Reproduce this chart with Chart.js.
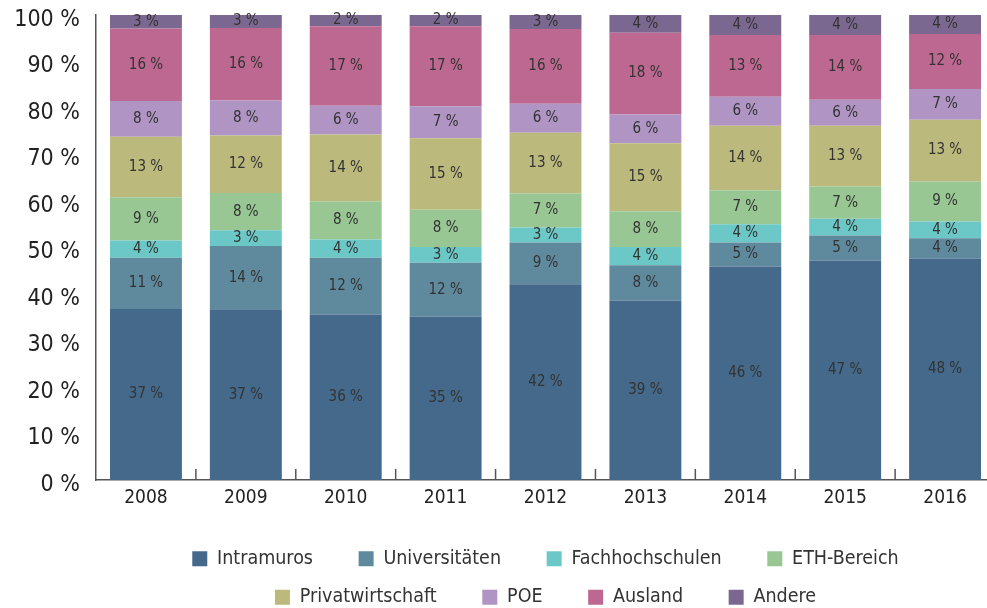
<!DOCTYPE html>
<html>
<head>
<meta charset="utf-8">
<script src="https://cdn.jsdelivr.net/npm/chart.js@4/dist/chart.umd.min.js"></script>
<style>
  html, body { margin: 0; padding: 0; background: #fff; overflow: hidden; }
</style>
</head>
<body>
<canvas id="chart" width="1000" height="617"></canvas>
<script>
const years = ['2008', '2009', '2010', '2011', '2012', '2013', '2014', '2015', '2016'];

// shares in percent
const intramuros       = [36.8, 36.7, 35.6, 35.1, 42.1, 38.6, 45.9, 47.2, 47.6];
const universitaeten   = [11.0, 13.6, 12.2, 11.6, 9.0, 7.6, 5.2, 5.4, 4.4];
const fachhochschulen  = [3.7, 3.4, 3.9, 3.4, 3.2, 3.9, 3.9, 3.6, 3.6];
const ethBereich       = [9.3, 8.0, 8.2, 8.0, 7.3, 7.7, 7.3, 6.9, 8.6];
const privatwirtschaft = [13.0, 12.4, 14.4, 15.4, 13.1, 14.6, 13.9, 13.1, 13.3];
const poe              = [7.7, 7.5, 6.2, 6.9, 6.2, 6.2, 6.2, 5.6, 6.6];
const ausland          = [15.6, 15.6, 17.1, 17.2, 16.1, 17.6, 13.3, 13.9, 11.8];
const andere           = [2.9, 2.8, 2.4, 2.4, 3.0, 3.8, 4.3, 4.3, 4.1];

const yTicks = [0, 10, 20, 30, 40, 50, 60, 70, 80, 90, 100];

const FONT = "'DejaVu Sans Condensed', 'DejaVu Sans', sans-serif";
const LEGEND_FONT_SIZE = 19.5;

const series = [
  { label: 'Intramuros', data: intramuros, color: '#44698a' },
  { label: 'Universitäten', data: universitaeten, color: '#5f8a9e' },
  { label: 'Fachhochschulen', data: fachhochschulen, color: '#6cc8c6' },
  { label: 'ETH-Bereich', data: ethBereich, color: '#98c794' },
  { label: 'Privatwirtschaft', data: privatwirtschaft, color: '#bcb97d' },
  { label: 'POE', data: poe, color: '#b094c4' },
  { label: 'Ausland', data: ausland, color: '#bc6891' },
  { label: 'Andere', data: andere, color: '#7b6890' },
];

// trailing gap after each legend text (wider than the row padding)
const LEGEND_GAP = ' \u2003\u2009';

// value labels in the middle of each segment
const segmentLabels = {
  id: 'segmentLabels',
  afterDatasetsDraw(chart) {
    const ctx = chart.ctx;
    ctx.save();
    ctx.font = '15px ' + FONT;
    ctx.fillStyle = '#333';
    ctx.textAlign = 'center';
    ctx.textBaseline = 'middle';
    chart.data.datasets.forEach((ds, i) => {
      const meta = chart.getDatasetMeta(i);
      meta.data.forEach((bar, j) => {
        const { x, y, base } = bar.getProps(['x', 'y', 'base'], true);
        ctx.fillText(Math.round(ds.data[j]) + ' %', x, (y + base) / 2);
      });
    });
    ctx.restore();
  },
};

// small upward ticks between the categories
const innerTicks = {
  id: 'innerTicks',
  afterDraw(chart) {
    const xs = chart.scales.x;
    const ctx = chart.ctx;
    ctx.save();
    ctx.strokeStyle = '#555';
    ctx.lineWidth = 1.5;
    for (let i = 1; i < years.length; i++) {
      const px = (xs.getPixelForValue(i - 1) + xs.getPixelForValue(i)) / 2;
      ctx.beginPath();
      ctx.moveTo(px, xs.top);
      ctx.lineTo(px, xs.top - 11);
      ctx.stroke();
    }
    ctx.restore();
  },
};

// the trailing gap shifts rows left, push the legend back by half of it
const legendShift = {
  id: 'legendShift',
  afterLayout(chart) {
    const lg = chart.legend;
    chart.ctx.save();
    chart.ctx.font = LEGEND_FONT_SIZE + 'px ' + FONT;
    const half = chart.ctx.measureText(LEGEND_GAP).width / 2;
    chart.ctx.restore();
    lg.left += half;
    lg.right += half;
  },
};

new Chart(document.getElementById('chart'), {
  type: 'bar',
  data: {
    labels: years,
    datasets: series.map((s) => ({
      label: s.label,
      data: s.data,
      backgroundColor: s.color,
      borderWidth: 0,
      barPercentage: 0.72,
      categoryPercentage: 1,
    })),
  },
  options: {
    responsive: false,
    animation: false,
    layout: { padding: { top: 0, right: 5, left: 0, bottom: 0 } },
    plugins: {
      legend: {
        position: 'bottom',
        fullSize: false,
        labels: {
          boxWidth: 15,
          boxHeight: 15,
          padding: 19,
          color: '#333',
          font: { family: FONT, size: LEGEND_FONT_SIZE },
          generateLabels: (chart) =>
            Chart.defaults.plugins.legend.labels.generateLabels(chart).map((item) => ({
              ...item,
              text: item.text + LEGEND_GAP,
            })),
        },
      },
      tooltip: { enabled: false },
    },
    scales: {
      x: {
        stacked: true,
        grid: { display: false, drawTicks: false },
        border: { color: '#555', width: 1.5 },
        ticks: { color: '#222', font: { family: FONT, size: 19 }, padding: 7 },
        afterFit: (scale) => {
          scale.height = 50;
        },
      },
      y: {
        stacked: true,
        min: 0,
        max: 100,
        afterBuildTicks: (scale) => {
          scale.ticks = yTicks.map((v) => ({ value: v }));
        },
        afterFit: (scale) => {
          scale.width = 96;
          scale.paddingTop = 15;
          scale.paddingBottom = 0;
        },
        grid: { display: false, drawTicks: false },
        border: { color: '#555', width: 1.5 },
        ticks: {
          color: '#222',
          font: { family: FONT, size: 23 },
          padding: 16,
          labelOffset: 5,
          callback: (v) => v + ' %',
        },
      },
    },
  },
  plugins: [segmentLabels, innerTicks, legendShift],
});
</script>
</body>
</html>
